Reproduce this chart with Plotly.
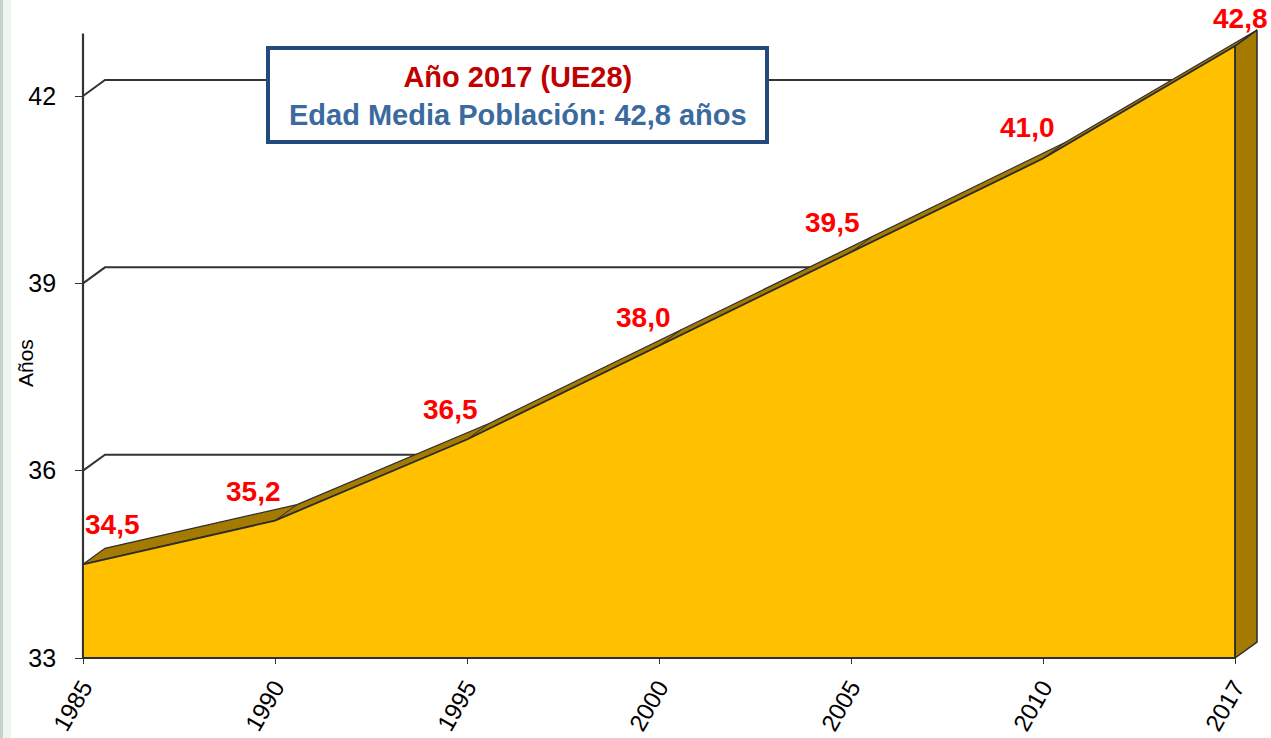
import plotly.graph_objects as go

# Edad media de la población (UE28)
years = ["1985", "1990", "1995", "2000", "2005", "2010", "2017"]
edad_media = [34.5, 35.2, 36.5, 38.0, 39.5, 41.0, 42.8]
value_labels = ["34,5", "35,2", "36,5", "38,0", "39,5", "41,0", "42,8"]
y_ticks = [33, 36, 39, 42]
y_top = 43

# pixel offsets of each value label from its point
label_dx = [29, -22, -17, -16, -19, -16, 5]
label_dy = [40, 29, 30, 28, 30, 31, 28]

W, H = 1271, 738
L, R, T, B = 70, 8, 5, 70
plot_w = W - L - R
plot_h = H - T - B
px_x = 192.0      # pixels per category
px_y = 62.44      # pixels per year of age
pad_l, pad_b = 13, 10

# fake 3d depth (in axis units)
dx = 22 / px_x
dy = 16 / px_y

xs = list(range(len(years)))
last = xs[-1]
base = y_ticks[0]

GOLD = "#FFC000"
DARK_GOLD = "#A47B00"
EDGE = "#2d2d2d"
NBSP = "\u00a0"

fig = go.Figure()

# back wall gridlines (with the little side-wall diagonal)
for g in y_ticks:
    fig.add_trace(go.Scatter(x=[0, dx, last + dx], y=[g, g + dy, g + dy], mode="lines",
                             line=dict(color="#333333", width=2), hoverinfo="skip"))

# front vertical axis line
fig.add_trace(go.Scatter(x=[0, 0], y=[base, y_top], mode="lines",
                         line=dict(color="#333333", width=2.2), hoverinfo="skip"))

# top surface of the area
band_x = xs + [x + dx for x in reversed(xs)]
band_y = edad_media + [v + dy for v in reversed(edad_media)]
fig.add_trace(go.Scatter(x=band_x + [band_x[0]], y=band_y + [band_y[0]], fill="toself",
                         fillcolor=DARK_GOLD, mode="lines", line=dict(color=EDGE, width=1.2),
                         hoverinfo="skip"))

# creases at each year
cx, cy = [], []
for x, v in zip(xs[1:-1], edad_media[1:-1]):
    cx += [x, x + dx, None]
    cy += [v, v + dy, None]
fig.add_trace(go.Scatter(x=cx, y=cy, mode="lines", line=dict(color=EDGE, width=1),
                         hoverinfo="skip"))

# right side face
fig.add_trace(go.Scatter(x=[last, last + dx, last + dx, last, last],
                         y=[edad_media[-1], edad_media[-1] + dy, base + dy, base, edad_media[-1]],
                         fill="toself", fillcolor=DARK_GOLD, mode="lines",
                         line=dict(color=EDGE, width=1.5), hoverinfo="skip"))

# front face
fig.add_trace(go.Scatter(x=xs + [last, 0, 0], y=edad_media + [base, base, edad_media[0]],
                         fill="toself", fillcolor=GOLD, mode="lines",
                         line=dict(color=EDGE, width=1.8), hoverinfo="skip"))

for x, v, t, ox, oy in zip(xs, edad_media, value_labels, label_dx, label_dy):
    fig.add_annotation(x=x, y=v, text=t, showarrow=False, xshift=ox, yshift=oy,
                       font=dict(family="Liberation Sans, Arial", size=28, color="#FF0000",
                                 weight="bold"))

def paper_x(p):
    return (p - L) / plot_w

def paper_y(p):
    return (H - B - p) / plot_h

# info box
fig.add_shape(type="rect", xref="paper", yref="paper",
              x0=paper_x(268), x1=paper_x(767), y0=paper_y(142), y1=paper_y(48),
              fillcolor="white", line=dict(color="#234A7C", width=4), layer="above")
fig.add_annotation(xref="paper", yref="paper", x=paper_x(517.5), y=paper_y(96),
                   text="<span style='color:#C00000'>Año 2017 (UE28)</span><br>"
                        "<span style='color:#3A6A9E'>Edad Media Población: 42,8 años</span>",
                   showarrow=False, xanchor="center", yanchor="middle",
                   font=dict(family="Liberation Sans, Arial", size=29, weight="bold"))

# y axis title
fig.add_annotation(xref="paper", yref="paper", x=paper_x(25), y=paper_y(363), text="Años",
                   textangle=-90, showarrow=False, xanchor="center", yanchor="middle",
                   font=dict(family="Liberation Sans, Arial", size=21, color="black"))

# faint slide border on the left
fig.add_shape(type="rect", xref="paper", yref="paper", x0=paper_x(0), x1=paper_x(3),
              y0=paper_y(H), y1=paper_y(0), fillcolor="#c9d1cb", line_width=0)
fig.add_shape(type="rect", xref="paper", yref="paper", x0=paper_x(3), x1=paper_x(11),
              y0=paper_y(H), y1=paper_y(0), fillcolor="#eef6f1", line_width=0)

fig.update_layout(
    width=W, height=H,
    margin=dict(l=L, r=R, t=T, b=B, autoexpand=False),
    paper_bgcolor="white", plot_bgcolor="white",
    showlegend=False,
    font=dict(family="Liberation Sans, Arial", color="black"),
    xaxis=dict(range=[-pad_l / px_x, (plot_w - pad_l) / px_x], tickvals=xs, ticktext=years,
               ticks="outside", ticklen=5, tickcolor="#333333", tickangle=-60,
               tickfont=dict(size=24), showgrid=False, zeroline=False, showline=False,
               anchor="free", position=pad_b / plot_h, automargin=False),
    yaxis=dict(range=[base - pad_b / px_y, base + (plot_h - pad_b) / px_y], tickvals=y_ticks,
               ticktext=[f"{t}{NBSP * 2}" for t in y_ticks],
               ticks="outside", ticklen=8, tickcolor="#333333", tickfont=dict(size=25),
               showgrid=False, zeroline=False, showline=False,
               anchor="free", position=pad_l / plot_w, automargin=False),
)

fig.write_html("out.html", config={"displayModeBar": False},
               post_script="document.body.style.margin='0';")
